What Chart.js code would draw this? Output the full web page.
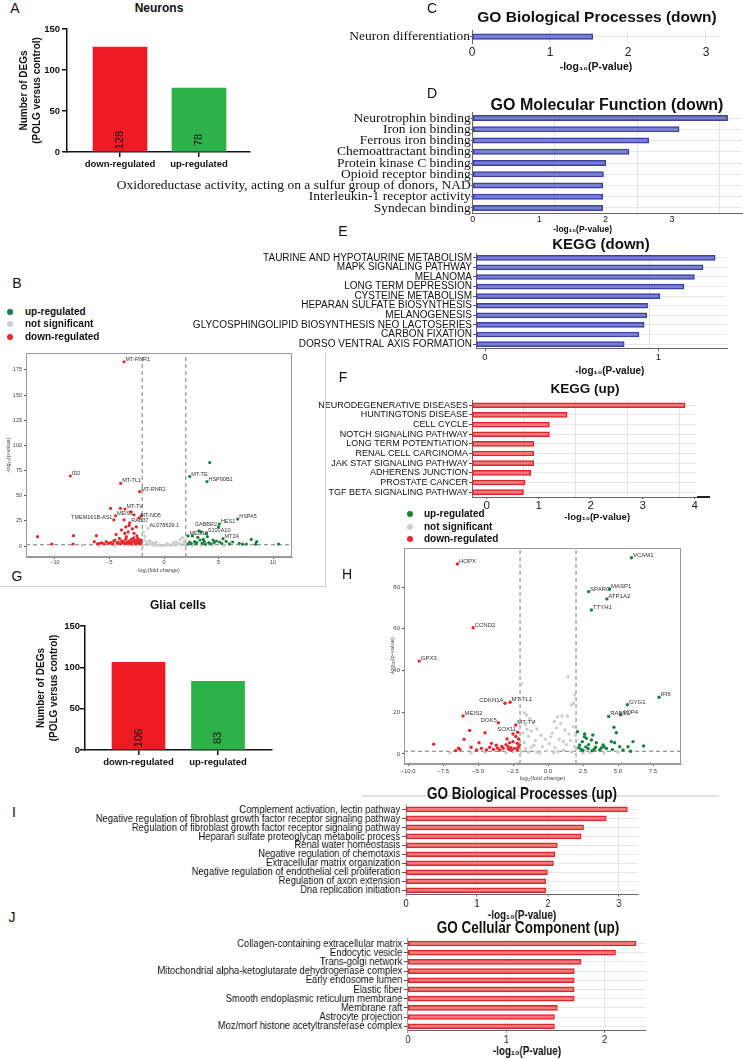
<!DOCTYPE html>
<html>
<head>
<meta charset="utf-8">
<title>POLG neurons / glial cells – DEGs and enrichment</title>
<script src="https://cdn.jsdelivr.net/npm/chart.js@4.4.1/dist/chart.umd.min.js"></script>
<style>
  html, body { margin: 0; padding: 0; background: #fff; }
  #fig { position: relative; width: 743px; height: 1059px; overflow: hidden;
         font-family: "Liberation Sans", Arial, sans-serif; color: #111; }
  #fig canvas { position: absolute; }
  .t { position: absolute; white-space: nowrap; line-height: 1; }
  .c { transform: translate(-50%, -50%); }
  .m { transform: translateY(-50%); }
  .dot { position: absolute; width: 6px; height: 6px; border-radius: 50%; transform: translate(-50%, -50%); }
  .rule { position: absolute; }
</style>
</head>
<body>
<div id="fig"></div>
<script>
/* Multi-panel figure: DEG counts, volcano plots and enrichment bars.
   All values. */

// ---------- data ----------
// A / G: number of DEGs (POLG versus control)
const degCategories = ["down-regulated", "up-regulated"];
const neuronDEGs = [128, 78];
const glialDEGs = [106, 83];

// C: GO Biological Processes (down)
const bpDownTerms = ["Neuron differentiation"];
const bpDownScore = [1.55];

// D: GO Molecular Function (down) (bars follow the grid lines, tick axis is pasted on)
const mfDownTerms = [
  "Neurotrophin binding", "Iron ion binding", "Ferrous iron binding", "Chemoattractant binding",
  "Protein kinase C binding", "Opioid receptor binding",
  "Oxidoreductase activity, acting on a sulfur group of donors, NAD",
  "Interleukin-1 receptor activity", "Syndecan binding",
];
const mfDownScore = [3.10, 2.51, 2.14, 1.90, 1.62, 1.59, 1.58, 1.58, 1.58];

// E: KEGG (down)
const keggDownTerms = [
  "TAURINE AND HYPOTAURINE METABOLISM", "MAPK SIGNALING PATHWAY", "MELANOMA", "LONG TERM DEPRESSION",
  "CYSTEINE METABOLISM", "HEPARAN SULFATE BIOSYNTHESIS", "MELANOGENESIS",
  "GLYCOSPHINGOLIPID BIOSYNTHESIS NEO LACTOSERIES", "CARBON FIXATION", "DORSO VENTRAL AXIS FORMATION",
];
const keggDownScore = [1.38, 1.31, 1.26, 1.20, 1.06, 0.99, 0.985, 0.97, 0.94, 0.855];

// F: KEGG (up)
const keggUpTerms = [
  "NEURODEGENERATIVE DISEASES", "HUNTINGTONS DISEASE", "CELL CYCLE", "NOTCH SIGNALING PATHWAY",
  "LONG TERM POTENTIATION", "RENAL CELL CARCINOMA", "JAK STAT SIGNALING PATHWAY", "ADHERENS JUNCTION",
  "PROSTATE CANCER", "TGF BETA SIGNALING PATHWAY",
];
const keggUpScore = [4.10, 1.83, 1.49, 1.49, 1.19, 1.19, 1.19, 1.13, 1.02, 0.99];

// I: GO Biological Processes (up)
const bpUpTerms = [
  "Complement activation, lectin pathway",
  "Negative regulation of fibroblast growth factor receptor signaling pathway",
  "Regulation of fibroblast growth factor receptor signaling pathway",
  "Heparan sulfate proteoglycan metabolic process", "Renal water homeostasis",
  "Negative regulation of chemotaxis", "Extracellular matrix organization",
  "Negative regulation of endothelial cell proliferation", "Regulation of axon extension",
  "Dna replication initiation",
];
const bpUpScore = [3.12, 2.82, 2.50, 2.47, 2.13, 2.10, 2.08, 1.99, 1.97, 1.97];

// J: GO Cellular Component (up)
const ccUpTerms = [
  "Collagen-containing extracellular matrix", "Endocytic vesicle", "Trans-golgi network",
  "Mitochondrial alpha-ketoglutarate dehydrogenase complex", "Early endosome lumen", "Elastic fiber",
  "Smooth endoplasmic reticulum membrane", "Membrane raft", "Astrocyte projection",
  "Moz/morf histone acetyltransferase complex",
];
const ccUpScore = [2.32, 2.11, 1.76, 1.69, 1.69, 1.69, 1.69, 1.52, 1.49, 1.49];

// volcano thresholds: |log2 FC| = 2, -log10(p) = 1.3
const fcCut = 2;
const pCut = 1.3;

// B: neurons volcano [log2FC, -log10 p, gene?, "l" = label on the left]
const neuronDown = [
  [-3.67,183,"MT-RNR1"],[-8.59,69.6,"ID2"],[-3.98,62.3,"MT-TL1"],[-2.23,54,"MT-RNR2"],
  [-4.9,37.5],[-4.0,37.5],[-3.58,36.8,"MT-TV"],[-3.06,34],[-2.75,31],[-4.45,30,"MEIS2"],
  [-2.08,30],[-2.3,28,"MT-ND5"],[-3.67,26],[-4.6,26,"TMEM161B-AS1","l"],[-3.15,23,"RAB37"],
  [-3.5,19],[-2.54,19],[-3.9,16],[-3.3,14],[-2.75,12.6],[-2.9,17],[-3.2,20.5],[-4.4,11.5],[-3.6,12.5],
  [-11.6,9.3],[-8.3,10.3],[-6.2,10.3],[-10.3,2],[-8.35,2],[-6.4,4.3],[-5.9,2.7],[-5.3,4.3],
  [-4.5,6],[-4.1,7.6],[-3.45,9.3],[-3.0,6.6],[-2.7,6],[-2.4,7.6],[-2.5,10],[-2.8,8.2],
  [-6.1,2.2],[-5.7,3.1],[-5.5,2.0],[-5.1,2.6],[-4.9,3.5],[-4.7,2.1],[-4.6,4.8],[-4.3,2.8],
  [-4.2,3.9],[-4.0,2.2],[-3.9,5.2],[-3.8,3.0],[-3.7,4.4],[-3.6,2.3],[-3.5,6.8],[-3.4,3.6],
  [-3.3,2.4],[-3.2,5.0],[-3.1,3.1],[-3.0,2.0],[-2.9,4.2],[-2.7,3.4],[-2.6,2.2],[-2.5,5.3],
  [-2.4,3.0],[-2.3,4.6],[-2.2,2.1],[-2.15,6.2],[-2.1,3.7],
];
const neuronNS = [
  [-1.47,17.6,"AL078639.1"],[-1.9,14],[-1.8,6],[-1.6,3.2],[-1.4,1.5],[-1.2,2.5],[-1.0,0.8],
  [-0.8,1.8],[-0.6,0.5],[-0.4,1.2],[-0.2,0.4],[0,0.9],[0.2,0.3],[0.4,1.4],[0.6,0.6],[0.8,2.1],
  [1.0,0.8],[1.2,1.6],[1.4,2.8],[1.6,1.1],[1.8,3.5],[1.9,5.5],[-1.75,9.5],[-1.55,4.2],[-1.3,5.1],
  [-1.1,3.3],[-0.9,2.7],[0.9,3.6],[1.1,4.2],[1.5,6.5],[1.7,8.5],[-2.5,0.6],[-3.2,0.9],[-4.5,0.5],
  [-6,0.4],[-7.5,0.8],[2.6,0.7],[3.4,0.5],[4.5,0.9],[5.5,0.4],[-1.9,1.0],[1.95,0.9],[-0.7,3.8],[0.3,2.6],
];
const neuronUp = [
  [4.19,82.9],[2.35,69,"MT-TE"],[3.94,64,"HSP90B1"],[6.76,26.8,"HSPA5"],[5.08,21.9,"HES1"],
  [5.0,19,"GABBR2","l"],[3.88,12.6,"S100A10"],[3.97,9.3],[3.2,15],[3.4,14],[2.6,10],[2.2,10,"MEG10"],
  [5.41,7.3,"MT2A"],[8.0,6.6],[8.5,4.3],[10.5,2],[6.9,2.7],[7.55,2],[6.3,4],[5.7,4.6],[5.1,4],
  [4.5,6],[3.7,4.6],[3.3,6],[2.8,4.3],[2.35,4],[3.1,8.6],[3.6,6.6],[4.8,5],[4.1,3.3],[2.5,2.5],
  [2.9,2.2],[3.0,3.4],[3.5,2.6],[4.3,2.2],[4.6,3.6],[5.3,2.5],[6.0,2.1],[7.2,1.8],[8.4,1.8],
  [2.2,1.9],[3.8,1.7],
];

// H: glial volcano
const glialDown = [
  [-6.47,91,"HOPX"],[-5.35,60.5,"CCND2"],[-9.2,44.5,"GPX3"],[-3.07,24.3,"CDKN1A","l"],
  [-2.71,24.8,"MT-TL1"],[-6.07,18.2,"MEIS2"],[-3.55,15,"DOK5","l"],[-2.31,13.9,"MT-TV"],
  [-2.17,10.4,"SOX11","l"],[-8.17,4.7],[-5.6,11.3],[-4.5,10.2],[-6.0,7],[-4.93,5.4],[-6.3,2.2],
  [-5.5,3.2],[-5.1,1.9],[-4.05,5.1],[-4.17,3.2],[-3.7,4.2],[-2.93,7.2],[-2.74,5.4],[-2.5,5.9],
  [-2.21,5.1],[-2.4,2.7],[-3.2,2.7],[-3.45,1.9],[-2.86,3.5],[-2.14,3.2],[-2.6,1.9],[-4.4,1.9],
  [-4.76,2.7],[-2.3,8.4],[-2.5,9.6],[-2.1,7.2],[-3.0,4.5],[-3.3,3.6],[-3.9,2.2],[-2.2,2.0],
  [-2.8,2.3],[-6.6,1.6],[-6.4,2.8],[-3.6,2.8],[-2.05,4.3],[-2.65,3.0],
];
const glialNS = [
  [1.43,37],[1.9,28.3],[1.83,24.3],[1.67,23.5],[1.38,18.2],[1.0,18.2],[0.67,17.9],[-1.9,33.5],
  [-1.7,19.8],[-1.55,18.7],[-1.3,17],[-1.0,15.5],[-1.6,14],[-0.8,12],[-1.2,11],[-1.8,10],[-0.5,9],
  [-1.4,8.5],[-0.2,7],[0.3,10],[0.6,12.5],[0.9,14.5],[1.2,11.5],[1.5,9.6],[1.8,13],[1.95,9],
  [0.1,5],[-0.9,6.5],[-1.7,5.5],[1.6,6.5],[0.8,7],[-0.4,3.5],[0.5,3],[1.3,4.5],[-1.2,3.2],
  [-1.6,2.5],[1.9,3.5],[-0.1,1.5],[0.7,1.2],[-0.8,1.0],[1.1,1.8],[-1.9,1.2],[1.7,1.0],[-0.6,0.5],
  [0.4,0.6],[-1.4,0.8],[-3.0,0.6],[-4.5,0.8],[-5.5,0.4],[3.0,0.7],[4.0,0.5],[5.0,0.8],[2.5,0.4],
  [-2.5,0.9],[-7,0.5],[-1.0,4.2],[0.2,8.2],[1.1,6.0],[-1.5,11.8],[0.45,15.6],
];
const glialUp = [
  [5.96,94,"VCAM1"],[2.9,77.8,"SPARC"],[4.4,79,"MASP1"],[4.2,74.3,"ATP1A2"],[3.1,69,"TTYH1"],
  [7.93,27.2,"IFI6"],[5.67,23.6,"GYG1"],[5.19,18.8,"AQP4"],[4.33,18,"RAB13"],[2.1,10.7],
  [2.62,9.6],[3.2,9.1],[2.74,7.5],[3.1,6.7],[3.45,5.4],[3.93,4.3],[4.52,5.9],[4.71,12.8],
  [4.88,10.2],[4.76,5.4],[5.12,3.5],[5.36,1.9],[5.71,3.5],[6.07,5.9],[6.83,3.8],[5.9,1.3],
  [2.38,2.2],[2.86,2.6],[3.69,1.9],[4.17,2.6],[2.26,4.3],[3.4,3.2],[2.45,5.9],[2.6,8.3],
  [2.9,4.5],[3.3,2.3],[4.0,3.5],[2.2,3.0],[2.5,1.7],[3.8,2.9],[4.6,2.1],[2.7,3.4],[3.15,1.6],
];

// ---------- look ----------
const SANS = '"Liberation Sans", Arial, sans-serif';
const SERIF = '"Liberation Serif", "Times New Roman", serif';
const NARROW_X = 0.82; // no condensed face installed: squeeze panels I and J horizontally
const COLORS = {
  redBar: "#ed1c24", greenBar: "#2db24a",
  down: "#e8262b", up: "#17803a", ns: "#cdcdcd",
  blueFill: "#7a80cf", blueEdge: "#3a41a3",
  redFill: "#f07b7e", redEdge: "#df252b",
};

Chart.defaults.font.family = SANS;
Chart.defaults.color = "#222";
Chart.defaults.animation = false;
Chart.defaults.responsive = false;
Chart.defaults.plugins.legend.display = false;
Chart.defaults.plugins.tooltip.enabled = false;

const fig = document.getElementById("fig");

function makeCanvas(b) {
  const sx = b.sx || 1;
  const iw = Math.round(b.w / sx);
  const c = document.createElement("canvas");
  c.width = iw; c.height = b.h;
  c.style.left = b.left + "px"; c.style.top = b.top + "px";
  c.style.width = iw + "px"; c.style.height = b.h + "px";
  if (sx !== 1) { c.style.transform = `scaleX(${sx})`; c.style.transformOrigin = "0 0"; }
  fig.appendChild(c);
  return c;
}

function txt(s, x, y, css, cls) {
  const d = document.createElement("div");
  d.className = "t " + (cls || "");
  d.textContent = s;
  d.style.left = x + "px"; d.style.top = y + "px";
  if (css) d.style.cssText += css;
  fig.appendChild(d);
  return d;
}

function rule(x, y, w, h, color) {
  const d = document.createElement("div");
  d.className = "rule";
  d.style.cssText += `left:${x}px;top:${y}px;width:${w}px;height:${h}px;background:${color}`;
  fig.appendChild(d);
}

// ---------- plugins ----------
// rotated count written at the base of each DEG bar
const countLabels = {
  id: "countLabels",
  afterDatasetsDraw(chart) {
    const { ctx, chartArea } = chart;
    const ds = chart.data.datasets[0];
    ctx.save();
    ctx.font = `11px ${SANS}`;
    ctx.fillStyle = "#111";
    ctx.textAlign = "center";
    ctx.textBaseline = "middle";
    chart.getDatasetMeta(0).data.forEach((bar, i) => {
      ctx.save();
      ctx.translate(bar.x, chartArea.bottom - 12);
      ctx.rotate(-Math.PI / 2);
      ctx.fillText(String(ds.data[i].y), 0, 0);
      ctx.restore();
    });
    ctx.restore();
  },
};

// gene names next to labelled volcano points
const geneLabels = {
  id: "geneLabels",
  afterDatasetsDraw(chart, args, opts) {
    const ctx = chart.ctx;
    ctx.save();
    ctx.font = `${opts.size}px ${SANS}`;
    ctx.fillStyle = "#333";
    ctx.textBaseline = "alphabetic";
    chart.data.datasets.forEach((ds, di) => {
      const meta = chart.getDatasetMeta(di);
      ds.data.forEach((d, i) => {
        if (!d.gene) return;
        const el = meta.data[i];
        ctx.textAlign = d.left ? "right" : "left";
        ctx.fillText(d.gene, el.x + (d.left ? -1.5 : 1.5), el.y - 1);
      });
    });
    ctx.restore();
  },
};

// box around the volcano plot area
const frame = {
  id: "frame",
  afterDraw(chart, args, opts) {
    const { ctx, chartArea: a } = chart;
    ctx.save();
    ctx.strokeStyle = opts.color || "#999";
    ctx.lineWidth = 1;
    ctx.strokeRect(a.left + 0.5, a.top + 0.5, a.width - 1, a.height - 1);
    ctx.restore();
  },
};

// ---------- chart factories ----------
function degChart(box, values, g) {
  return new Chart(makeCanvas(box), {
    type: "bar",
    data: {
      datasets: [{
        data: values.map((v, i) => ({ x: i, y: v })),
        backgroundColor: [COLORS.redBar, COLORS.greenBar],
        barThickness: g.barW,
      }],
    },
    options: {
      layout: { padding: { top: g.padTop, right: g.padRight, left: 0, bottom: 0 } },
      scales: {
        x: {
          type: "linear", offset: false, min: g.xmin, max: g.xmax,
          afterFit: (s) => { s.height = g.xH; },
          grid: { offset: false, drawOnChartArea: false, tickLength: 5, color: "#111", lineWidth: 1.5 },
          border: { color: "#111", width: 1.5 },
          ticks: {
            stepSize: 1, includeBounds: false, autoSkip: false, maxRotation: 0, padding: 1.3,
            color: "#111", font: { size: 9.5, weight: "bold" },
            callback: (v) => degCategories[v] ?? "",
          },
        },
        y: {
          min: 0, max: 150,
          afterFit: (s) => { s.width = g.yW; },
          grid: { drawOnChartArea: false, tickLength: 5, color: "#111", lineWidth: 1.5 },
          border: { color: "#111", width: 1.5 },
          ticks: { stepSize: 50, padding: g.yPad, color: "#111", font: { size: 9.5, weight: "bold" } },
          title: {
            display: true, text: ["Number of DEGs", "(POLG versus control)"], color: "#111",
            font: { size: 10, weight: "bold", lineHeight: 1.3 }, padding: { top: g.titlePad, bottom: 0 },
          },
        },
      },
    },
    plugins: [countLabels],
  });
}

// horizontal enrichment bars; widths in o are final page pixels
function hbar(box, terms, scores, o) {
  const sx = box.sx || 1;
  return new Chart(makeCanvas(box), {
    type: "bar",
    data: {
      labels: terms,
      datasets: [{
        data: scores, backgroundColor: o.fill, borderColor: o.edge, borderWidth: 1.5,
        borderSkipped: false, barThickness: o.barW,
      }],
    },
    options: {
      indexAxis: "y",
      layout: { padding: { top: o.padTop, right: o.padRight / sx, left: 0, bottom: 0 } },
      scales: {
        y: {
          afterFit: (s) => { s.width = o.yW / sx; },
          grid: { offset: false, color: "#e8e8e8", tickColor: "#555", tickLength: o.tl },
          border: { color: "#666" },
          ticks: { autoSkip: false, padding: o.lpad, color: "#111", font: o.lfont },
        },
        x: {
          type: "linear", min: 0, max: o.max,
          afterFit: (s) => { s.height = 0; },
          grid: { color: "#e3e3e3", drawTicks: false },
          border: { display: false },
          ticks: { display: false, stepSize: 1, includeBounds: false },
        },
        x2: {
          axis: "x", position: "bottom", type: "linear", min: o.tmin, max: o.tmax,
          afterFit: (s) => { s.height = o.xH; },
          grid: { drawOnChartArea: false, drawTicks: o.ttl > 0, tickLength: o.ttl, color: "#555" },
          border: { display: o.axisLine, color: "#666" },
          ticks: {
            stepSize: 1, includeBounds: false, maxRotation: 0, padding: o.tpad, color: "#222",
            font: o.tfont, callback: (v) => (v >= 0 && v <= o.tlast ? v : ""),
          },
          title: {
            display: true, text: o.title, color: "#111", font: o.titleFont,
            padding: { top: 0, bottom: o.titlePad },
          },
        },
      },
    },
  });
}

function volcano(box, g, down, ns, up) {
  const toPts = (arr) => arr.map(([x, y, gene, side]) => ({ x, y, gene, left: side === "l" }));
  const dash = { type: "line", borderColor: "#7a7a7a", borderWidth: 1, borderDash: [4, 3], pointRadius: 0, fill: false };
  const dot = (col) => ({ backgroundColor: col, borderWidth: 0, pointRadius: g.r });
  return new Chart(makeCanvas(box), {
    type: "scatter",
    data: {
      datasets: [
        { data: toPts(down), ...dot(COLORS.down) },
        { data: toPts(up), ...dot(COLORS.up) },
        { data: toPts(ns), ...dot(COLORS.ns) },
        { ...dash, data: [{ x: -fcCut, y: g.ymin }, { x: -fcCut, y: g.ymax }] },
        { ...dash, data: [{ x: fcCut, y: g.ymin }, { x: fcCut, y: g.ymax }] },
        { ...dash, data: [{ x: g.xmin, y: pCut }, { x: g.xmax, y: pCut }] },
      ],
    },
    options: {
      layout: { padding: { top: g.padTop, right: g.padRight, left: 0, bottom: 0 } },
      plugins: { geneLabels: { size: g.fs }, frame: { color: "#9a9a9a" } },
      scales: {
        x: {
          type: "linear", min: g.xmin, max: g.xmax,
          afterFit: (s) => { s.height = g.xH; },
          grid: { drawOnChartArea: false, tickLength: 2, color: "#555" },
          border: { color: "#9a9a9a" },
          ticks: {
            stepSize: g.xStep, includeBounds: false, maxRotation: 0, padding: g.xPad, color: "#444",
            font: { size: g.fs }, callback: g.xFmt,
          },
          title: {
            display: true, text: "log\u2082(fold change)", color: "#444", font: { size: g.fs },
            padding: { top: 0, bottom: g.xTitlePad },
          },
        },
        y: {
          min: g.ymin, max: g.ymax,
          afterFit: (s) => { s.width = g.yW; },
          grid: { drawOnChartArea: false, tickLength: 2, color: "#555" },
          border: { color: "#9a9a9a" },
          ticks: { stepSize: g.yStep, includeBounds: false, padding: 2, color: "#444", font: { size: g.fs } },
          title: {
            display: true, text: "-log\u2081\u2080(p-value)", color: "#444", font: { size: g.fs },
            padding: { top: g.yTitlePad, bottom: 0 },
          },
        },
      },
    },
    plugins: [geneLabels, frame],
  });
}

// ---------- layout ----------
const minus = (v) => String(v).replace("-", "\u2212");
const AXIS_TITLE = "-log\u2081\u2080(P-value)";
const NB = "\u00a0";

// A
degChart({ left: 0, top: 20, w: 270, h: 157 }, neuronDEGs,
  { padTop: 9, padRight: 20, yW: 67, xH: 25, xmin: -0.671, xmax: 1.646, barW: 54, yPad: 2, titlePad: 18 });
// G
degChart({ left: 0, top: 612, w: 290, h: 163 }, glialDEGs,
  { padTop: 14, padRight: 18, yW: 85, xH: 25, xmin: -0.673, xmax: 1.679, barW: 53, yPad: 0, titlePad: 35 });

// C
hbar({ left: 250, top: 22, w: 480, h: 55 }, bpDownTerms, bpDownScore, {
  fill: COLORS.blueFill, edge: COLORS.blueEdge, barW: 5.5, yW: 222, padTop: 6, padRight: 10, xH: 34,
  tl: 2, lpad: 0, lfont: { family: SERIF, size: 13.5 }, max: 3.18, tmin: 0, tmax: 3.18, tlast: 3,
  ttl: 0, tpad: 2, axisLine: false, tfont: { size: 12 }, title: AXIS_TITLE,
  titleFont: { size: 10.5, weight: "bold" }, titlePad: 4,
});

// D
hbar({ left: 90, top: 100, w: 655, h: 138 }, mfDownTerms, mfDownScore, {
  fill: COLORS.blueFill, edge: COLORS.blueEdge, barW: 5.5, yW: 382.8, padTop: 12.4, padRight: 3, xH: 24.4,
  tl: 2, lpad: 0, lfont: { family: SERIF, size: 13.5 }, max: 3.275, tmin: 0, tmax: 4.054, tlast: 3,
  ttl: 0, tpad: 1, axisLine: true, tfont: { size: 9 }, title: AXIS_TITLE + NB.repeat(21),
  titleFont: { size: 8.5, weight: "bold" }, titlePad: 2.9,
});

// E
hbar({ left: 150, top: 246, w: 590, h: 134 }, keggDownTerms, keggDownScore, {
  fill: COLORS.blueFill, edge: COLORS.blueEdge, barW: 5, yW: 326, padTop: 5.1, padRight: 13, xH: 31.1,
  tl: 3, lpad: 1, lfont: { size: 10 }, max: 1.448, tmin: -0.052, tmax: 1.396, tlast: 1,
  ttl: 2, tpad: 0.4, axisLine: true, tfont: { size: 9.5 }, title: NB.repeat(6) + AXIS_TITLE,
  titleFont: { size: 10, weight: "bold" }, titlePad: 3,
});

// F
hbar({ left: 300, top: 394, w: 420, h: 130 }, keggUpTerms, keggUpScore, {
  fill: COLORS.redFill, edge: COLORS.redEdge, barW: 5, yW: 172, padTop: 3, padRight: 24, xH: 27,
  tl: 3, lpad: 1, lfont: { size: 9 }, max: 4.31, tmin: -0.283, tmax: 4.027, tlast: 4,
  ttl: 2, tpad: 0, axisLine: true, tfont: { size: 11.5 }, title: NB.repeat(10) + AXIS_TITLE,
  titleFont: { size: 9.5, weight: "bold" }, titlePad: 1.3,
});

// I (narrow lettering)
hbar({ left: 40, top: 796, w: 610, h: 128, sx: NARROW_X }, bpUpTerms, bpUpScore, {
  fill: COLORS.redFill, edge: COLORS.redEdge, barW: 5, yW: 366, padTop: 5.3, padRight: 12, xH: 29.3,
  tl: 5, lpad: 2, lfont: { size: 11.5 }, max: 3.27, tmin: 0, tmax: 3.27, tlast: 3,
  ttl: 2, tpad: 0, axisLine: true, tfont: { size: 11.5 }, title: AXIS_TITLE,
  titleFont: { size: 12, weight: "bold" }, titlePad: 1.1,
});

// J (narrow lettering)
hbar({ left: 40, top: 930, w: 620, h: 129, sx: NARROW_X }, ccUpTerms, ccUpScore, {
  fill: COLORS.redFill, edge: COLORS.redEdge, barW: 5, yW: 368, padTop: 4.2, padRight: 14, xH: 28.2,
  tl: 5, lpad: 2, lfont: { size: 11.5 }, max: 2.42, tmin: 0, tmax: 2.42, tlast: 2,
  ttl: 2, tpad: 0.6, axisLine: true, tfont: { size: 11.5 }, title: AXIS_TITLE,
  titleFont: { size: 12, weight: "bold" }, titlePad: 0.1,
});

// B
volcano({ left: 0, top: 345, w: 300, h: 232 }, {
  padTop: 8, padRight: 8, yW: 26, xH: 20, xmin: -12.66, xmax: 11.74, ymin: -10.9, ymax: 191.8,
  xStep: 5, yStep: 25, r: 1.6, fs: 5.5, xPad: 0, xTitlePad: 3.7, yTitlePad: 4.7, xFmt: (v) => minus(v),
}, neuronDown, neuronNS, neuronUp);

// H
volcano({ left: 380, top: 540, w: 310, h: 243 }, {
  padTop: 8, padRight: 9, yW: 24, xH: 19, xmin: -10.29, xmax: 9.5, ymin: -4.8, ymax: 98.7,
  xStep: 2.5, yStep: 20, r: 1.7, fs: 6, xPad: 1.4, xTitlePad: 1.4, yTitlePad: 8.4,
  xFmt: (v) => minus(v.toFixed(1)),
}, glialDown, glialNS, glialUp);

// ---------- titles, legends, panel letters ----------
txt("Neurons", 159, 8, "font-size:12px;font-weight:bold", "c");
txt("Glial cells", 178, 605, "font-size:12px;font-weight:bold", "c");
txt("GO Biological Processes (down)", 597, 17, "font-size:15.5px;font-weight:bold", "c");
txt("GO Molecular Function (down)", 607, 105, "font-size:16px;font-weight:bold", "c");
txt("KEGG (down)", 601, 243, "font-size:15px;font-weight:bold", "c");
txt("KEGG (up)", 585, 389, "font-size:13.5px;font-weight:bold", "c");
rule(362, 795, 357, 2, "#e2e2e2");
const narrowTitle = `font-size:16.5px;font-weight:bold;transform:translate(-50%,-50%) scaleX(${NARROW_X})`;
txt("GO Biological Processes (up)", 522, 793, narrowTitle);
txt("GO Cellular Component (up)", 528, 927, narrowTitle);

function legend(dotX, textX, rows) {
  const items = [["up-regulated", COLORS.up], ["not significant", COLORS.ns], ["down-regulated", COLORS.down]];
  items.forEach(([name, col], i) => {
    const d = document.createElement("div");
    d.className = "dot";
    d.style.cssText += `left:${dotX}px;top:${rows[i]}px;background:${col}`;
    fig.appendChild(d);
    txt(name, textX, rows[i], "font-size:10px;font-weight:bold", "m");
  });
}
legend(10, 25, [312, 324, 337]);
legend(410, 424, [514, 527, 539]);

// panel frame around B and the stray axis stub in F
rule(325, 353, 1, 233, "#cfcfcf");
rule(0, 586, 326, 1, "#cfcfcf");
rule(697, 496, 13, 1.5, "#222");

[["A", 15, 8], ["B", 17, 283], ["C", 432, 8], ["D", 432, 93], ["E", 343, 231], ["F", 343, 377],
 ["G", 17, 576], ["H", 347, 574], ["I", 14, 812], ["J", 12, 917]]
  .forEach(([s, x, y]) => txt(s, x, y, "font-size:14px", "c"));
</script>
</body>
</html>
